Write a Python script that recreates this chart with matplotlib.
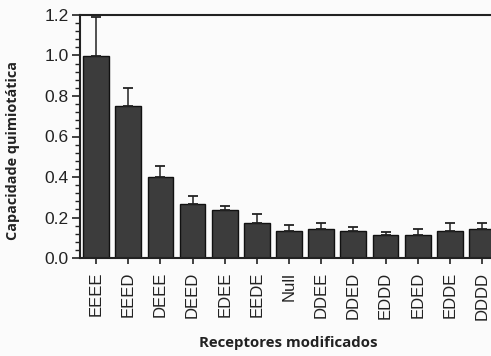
import numpy as np
import matplotlib.pyplot as plt
from matplotlib.ticker import MultipleLocator

# Capacidade quimiotática dos receptores modificados
receptores = ['EEEE', 'EEED', 'DEEE', 'DEED', 'EDEE', 'EEDE', 'Null',
              'DDEE', 'DDED', 'EDDD', 'EDED', 'EDDE', 'DDDD']
capacidade = [1.00, 0.75, 0.40, 0.265, 0.235, 0.175, 0.132,
              0.143, 0.132, 0.114, 0.114, 0.132, 0.143]
erro = [0.19, 0.09, 0.055, 0.04, 0.02, 0.04, 0.033,
        0.032, 0.022, 0.016, 0.028, 0.043, 0.030]

fig = plt.figure(figsize=(4.91, 3.56), dpi=100, facecolor='#fbfbfb')
ax = fig.add_axes([80 / 491, 1 - 258 / 356, 1 - 80 / 491, (258 - 15) / 356])
ax.set_facecolor('#fbfbfb')

x = np.arange(len(receptores))
ax.bar(x, capacidade, width=0.8, color='#3c3c3c', edgecolor='#111111',
       linewidth=1.0, zorder=2)
ax.errorbar(x, capacidade, yerr=[np.zeros(len(erro)), erro], fmt='none',
            ecolor='#222222', elinewidth=1.1, capsize=3.5, capthick=1.3, zorder=3)

ax.set_xlim(-0.5, 12.28)
ax.set_ylim(0, 1.2)
ax.yaxis.set_major_locator(MultipleLocator(0.2))
ax.yaxis.set_minor_locator(MultipleLocator(0.04))
ax.yaxis.set_major_formatter(plt.FormatStrFormatter('%.1f'))
ax.set_xticks(x)
ax.set_xticklabels(receptores, rotation=90, fontsize=12,
                   family=['Liberation Sans', 'DejaVu Sans'], color='#222222')
for lab in ax.get_yticklabels():
    lab.set_fontsize(12.5)
    lab.set_family(['Liberation Sans', 'DejaVu Sans'])
    lab.set_color('#222222')

ax.tick_params(axis='y', which='major', direction='out', length=6, width=1.2,
               color='#222222', pad=2)
ax.tick_params(axis='y', which='minor', direction='out', length=3.5, width=1.0,
               color='#222222')
ax.tick_params(axis='x', direction='out', length=4, width=1.2,
               color='#222222', pad=6)

for side in ['left', 'top', 'bottom']:
    ax.spines[side].set_linewidth(1.5)
    ax.spines[side].set_color('#222222')
ax.spines['right'].set_visible(False)

fig.text(0.026, 1 - 150 / 356, 'Capacidade quimiotática', rotation=90,
         ha='center', va='center', fontsize=10.4, fontweight='bold',
         family=['Open Sans', 'DejaVu Sans'], color='#222222')
fig.text(288 / 491, 1 - 343 / 356, 'Receptores modificados',
         ha='center', va='center', fontsize=10.8, fontweight='bold',
         family=['Open Sans', 'DejaVu Sans'], color='#222222')

fig.savefig('out.png', dpi=100, facecolor=fig.get_facecolor())
